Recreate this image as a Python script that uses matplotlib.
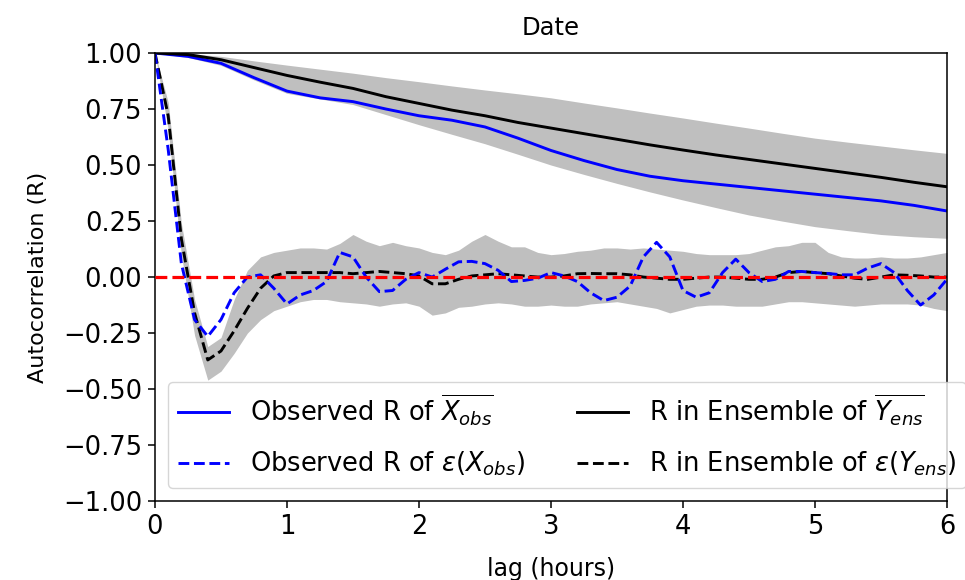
import numpy as np
import matplotlib
matplotlib.use("Agg")
import matplotlib.pyplot as plt

# ---- data ----
lag_smooth = [0.0, 0.25, 0.5, 0.75, 1.0, 1.25, 1.5, 1.75, 2.0, 2.25, 2.5, 2.75, 3.0,
              3.25, 3.5, 3.75, 4.0, 4.25, 4.5, 4.75, 5.0, 5.25, 5.5, 5.75, 6.0]
ens_mean_R = [1.0, 0.993, 0.97, 0.935, 0.90, 0.87, 0.842, 0.805, 0.775, 0.745, 0.72, 0.69, 0.665,
              0.64, 0.615, 0.59, 0.567, 0.545, 0.525, 0.505, 0.485, 0.465, 0.445, 0.423, 0.403]
ens_mean_hi = [1.0, 0.998, 0.985, 0.965, 0.946, 0.928, 0.91, 0.89, 0.872, 0.853, 0.835, 0.818, 0.80,
               0.777, 0.755, 0.732, 0.71, 0.687, 0.665, 0.642, 0.62, 0.602, 0.585, 0.568, 0.552]
ens_mean_lo = [1.0, 0.98, 0.945, 0.88, 0.82, 0.795, 0.77, 0.725, 0.68, 0.637, 0.595, 0.548, 0.50,
               0.458, 0.418, 0.38, 0.344, 0.31, 0.277, 0.25, 0.225, 0.207, 0.19, 0.18, 0.173]
obs_mean_R = [1.0, 0.985, 0.954, 0.89, 0.83, 0.80, 0.783, 0.75, 0.72, 0.70, 0.67, 0.62, 0.565,
              0.52, 0.48, 0.45, 0.43, 0.415, 0.40, 0.385, 0.37, 0.355, 0.34, 0.32, 0.295]

lag_fine = [0.0, 0.1, 0.2, 0.3, 0.4, 0.5, 0.6, 0.7, 0.8, 0.9, 1.0, 1.1, 1.2, 1.3, 1.4, 1.5,
            1.6, 1.7, 1.8, 1.9, 2.0, 2.1, 2.2, 2.3, 2.4, 2.5, 2.6, 2.7, 2.8, 2.9, 3.0,
            3.1, 3.2, 3.3, 3.4, 3.5, 3.6, 3.7, 3.8, 3.9, 4.0, 4.1, 4.2, 4.3, 4.4, 4.5,
            4.6, 4.7, 4.8, 4.9, 5.0, 5.1, 5.2, 5.3, 5.4, 5.5, 5.6, 5.7, 5.8, 5.9, 6.0]
ens_eps_R = [1.0, 0.72, 0.17, -0.16, -0.37, -0.33, -0.24, -0.14, -0.05, 0.005, 0.02, 0.02, 0.02,
             0.02, 0.02, 0.015, 0.02, 0.025, 0.02, 0.015, 0.005, -0.03, -0.03, -0.01, 0.005,
             0.01, 0.015, 0.01, 0.005, 0.0, 0.0, 0.005, 0.015, 0.016, 0.015, 0.015, 0.01, 0.0,
             -0.005, -0.01, -0.01, -0.005, 0.0, 0.0, -0.005, -0.01, -0.01, 0.0, 0.02, 0.025,
             0.02, 0.015, 0.005, -0.005, -0.01, 0.0, 0.01, 0.008, 0.005, 0.0, 0.0]
ens_eps_hi = [1.0, 0.78, 0.24, -0.10, -0.31, -0.27, -0.10, 0.03, 0.09, 0.11, 0.12, 0.13, 0.13,
              0.125, 0.15, 0.19, 0.16, 0.14, 0.155, 0.14, 0.13, 0.11, 0.10, 0.12, 0.16, 0.19,
              0.16, 0.135, 0.135, 0.11, 0.10, 0.105, 0.115, 0.12, 0.13, 0.13, 0.125, 0.13,
              0.125, 0.12, 0.115, 0.105, 0.10, 0.10, 0.10, 0.105, 0.12, 0.135, 0.14, 0.155,
              0.155, 0.11, 0.09, 0.085, 0.085, 0.09, 0.085, 0.085, 0.09, 0.10, 0.11]
ens_eps_lo = [1.0, 0.66, 0.10, -0.26, -0.46, -0.42, -0.34, -0.25, -0.19, -0.15, -0.13, -0.11,
              -0.10, -0.10, -0.11, -0.115, -0.12, -0.13, -0.12, -0.115, -0.13, -0.17, -0.16,
              -0.135, -0.13, -0.12, -0.115, -0.12, -0.13, -0.13, -0.125, -0.13, -0.13, -0.12,
              -0.115, -0.11, -0.12, -0.13, -0.14, -0.16, -0.145, -0.13, -0.125, -0.125, -0.13,
              -0.13, -0.13, -0.12, -0.11, -0.11, -0.115, -0.12, -0.125, -0.13, -0.125, -0.12,
              -0.12, -0.12, -0.125, -0.14, -0.15]
obs_eps_R = [1.0, 0.57, 0.06, -0.19, -0.265, -0.19, -0.07, 0.0, 0.01, -0.05, -0.12, -0.08, -0.06,
             -0.02, 0.11, 0.09, 0.0, -0.065, -0.06, -0.01, 0.02, 0.0, 0.035, 0.068, 0.07, 0.06,
             0.03, -0.02, -0.015, -0.005, 0.02, 0.005, -0.02, -0.07, -0.105, -0.09, -0.04, 0.09,
             0.155, 0.09, -0.06, -0.09, -0.07, 0.02, 0.08, 0.02, -0.02, -0.01, 0.025, 0.025,
             0.02, 0.016, 0.01, 0.01, 0.04, 0.06, 0.02, -0.06, -0.125, -0.08, -0.01]

y_ticks = [-1.0, -0.75, -0.5, -0.25, 0.0, 0.25, 0.5, 0.75, 1.0]

labels = [r'Observed R of $\overline{X_{obs}}$',
          r'Observed R of $\epsilon(X_{obs})$',
          r'R in Ensemble of $\overline{Y_{ens}}$',
          r'R in Ensemble of $\epsilon(Y_{ens})$']

# ---- figure ----
plt.rcParams['font.family'] = ['DejaVu Sans']
fig = plt.figure(figsize=(9.65, 5.8), dpi=100)
ax = fig.add_axes([0.1606, 0.136, 0.8207, 0.7726])

ax.fill_between(lag_smooth, ens_mean_lo, ens_mean_hi, color='grey', alpha=0.5, lw=0)
ax.fill_between(lag_fine, ens_eps_lo, ens_eps_hi, color='grey', alpha=0.5, lw=0)

l_obs, = ax.plot(lag_smooth, obs_mean_R, color='blue', lw=2.1, label=labels[0])
l_ens, = ax.plot(lag_smooth, ens_mean_R, color='black', lw=2.1, label=labels[2])
l_ens_eps, = ax.plot(lag_fine, ens_eps_R, color='black', ls='--', lw=2.1, label=labels[3])
l_obs_eps, = ax.plot(lag_fine, obs_eps_R, color='blue', ls='--', lw=2.1, label=labels[1])
ax.axhline(0, color='red', ls='--', lw=2.3, zorder=5)

ax.set_xlim(0, 6)
ax.set_ylim(-1, 1)
ax.set_yticks(y_ticks)
ax.tick_params(labelsize=18.5, length=4.7, pad=4.5, width=1.1)
for s in ax.spines.values():
    s.set_linewidth(1.1)
ax.set_title('Date', fontsize=17.5, pad=13)
ax.set_xlabel('lag (hours)', fontsize=17, labelpad=12)
ax.set_ylabel('Autocorrelation (R)', fontsize=16, labelpad=11)

ax.legend(handles=[l_obs, l_obs_eps, l_ens, l_ens_eps], loc='lower left', ncol=2,
          fontsize=18.5, labelspacing=0.85)

fig.savefig('out.png', dpi=100)
